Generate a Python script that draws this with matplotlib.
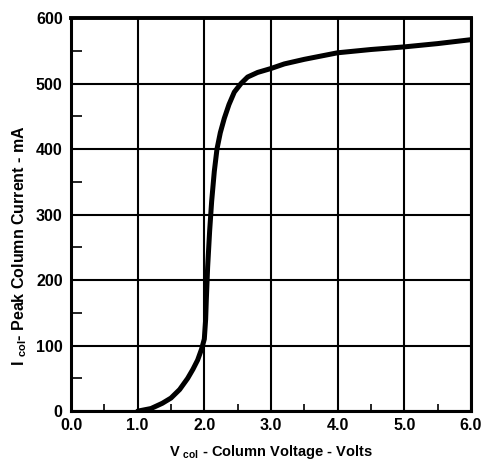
import matplotlib.pyplot as plt
from matplotlib.ticker import MultipleLocator

# Curve (V col in volts, I col in mA)
v_col = [1.0, 1.2, 1.37, 1.5, 1.63, 1.75, 1.83, 1.9, 1.96, 2.0, 2.02, 2.03,
         2.05, 2.08, 2.11, 2.15, 2.19, 2.24, 2.3, 2.37, 2.45, 2.55, 2.65,
         2.8, 3.0, 3.2, 3.5, 4.0, 4.5, 5.0, 5.5, 6.0]
i_col = [0, 4, 12, 20, 33, 50, 64, 78, 95, 110, 140, 170,
         220, 275, 320, 366, 400, 425, 447, 468, 487, 500, 510,
         517, 523, 530, 537, 547, 552, 556, 561, 567]

x_ticks = [0, 1, 2, 3, 4, 5, 6]
x_labels = ["0.0", "1.0", "2.0", "3.0", "4.0", "5.0", "6.0"]
y_ticks = [0, 100, 200, 300, 400, 500, 600]

plt.rcParams["font.family"] = ["Liberation Sans", "DejaVu Sans"]
plt.rcParams["font.weight"] = "bold"
plt.rcParams["mathtext.default"] = "regular"
plt.rcParams["mathtext.fontset"] = "custom"
plt.rcParams["mathtext.rm"] = "Liberation Sans:bold"

fig = plt.figure(figsize=(4.83, 4.63), dpi=100)
ax = fig.add_axes([0.147, 0.112, 0.828, 0.849])

ax.plot(v_col, i_col, color="black", linewidth=3.6, solid_capstyle="round", zorder=3)

ax.set_xlim(0, 6)
ax.set_ylim(0, 600)
ax.set_xticks(x_ticks)
ax.set_xticklabels(x_labels)
ax.set_yticks(y_ticks)
ax.xaxis.set_minor_locator(MultipleLocator(0.5))
ax.yaxis.set_minor_locator(MultipleLocator(50))

ax.grid(True, which="major", color="black", linewidth=1.5)
ax.tick_params(which="major", length=0, labelsize=11.5)
ax.tick_params(axis="x", which="major", pad=5)
ax.tick_params(axis="y", which="major", pad=6)
ax.tick_params(which="minor", direction="in", length=5, width=1.2, color="black")
ax.tick_params(axis="y", which="minor", length=8)
for lbl in ax.get_xticklabels() + ax.get_yticklabels():
    lbl.set_fontweight("bold")

for side, sp in ax.spines.items():
    sp.set_linewidth(2.2)
ax.spines["top"].set_linewidth(2.8)

ax.set_xlabel(r"V $_{\mathregular{col}}$ - Column Voltage - Volts",
              fontsize=10.5, fontweight="bold", labelpad=7)
ax.set_ylabel(r"I $_{\mathregular{col}}$- Peak Column Current - mA",
              fontsize=11.5, fontweight="bold")
ax.yaxis.set_label_coords(-0.105, 0.42)

fig.savefig("out.png", dpi=100)
